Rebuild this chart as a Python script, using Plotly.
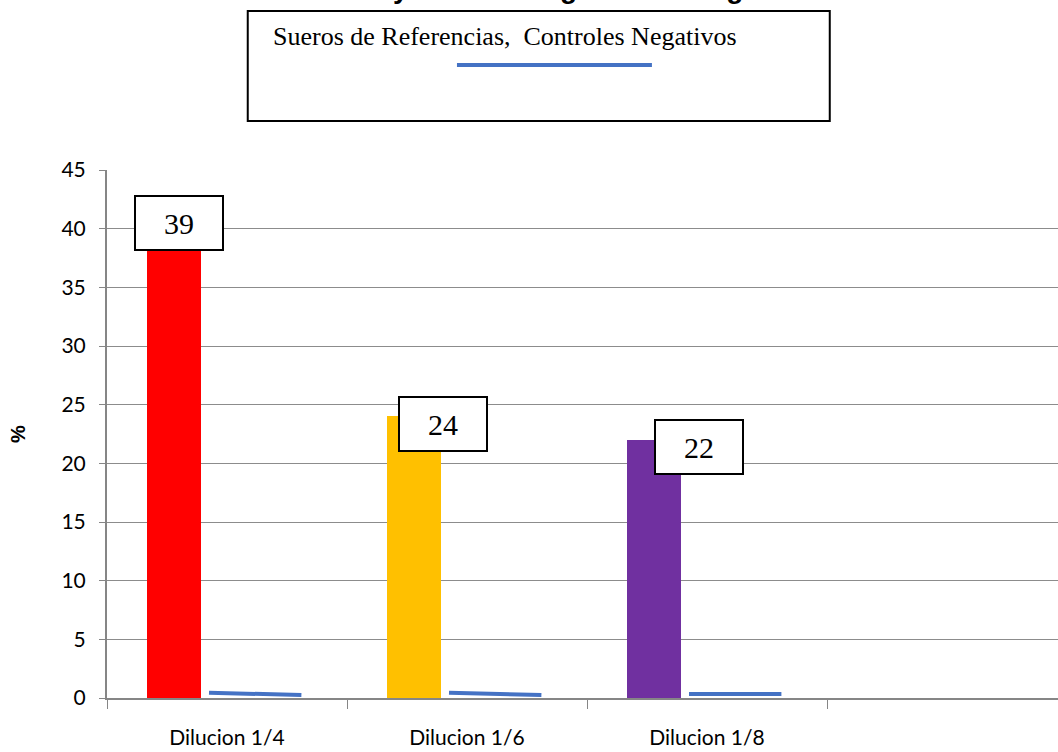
import plotly.graph_objects as go

categories = ["Dilucion 1/4", "Dilucion 1/6", "Dilucion 1/8"]
sueros = [39, 24, 22]
bar_colors = ["#FF0000", "#FFC000", "#7030A0"]
neg_start = [0.45, 0.45, 0.35]
neg_end = [0.25, 0.25, 0.35]
y_ticks = [0, 5, 10, 15, 20, 25, 30, 35, 40, 45]
title_text = "Ensayo Elisa Antígeno Total Ag"
legend_text = "Sueros de Referencias,  Controles Negativos"

idx = list(range(len(categories)))
fig = go.Figure()
fig.add_trace(go.Bar(x=[i + 0.279 for i in idx], y=sueros, width=0.225,
                     marker=dict(color=bar_colors, line=dict(width=0)),
                     showlegend=False, hoverinfo="skip"))
nx, ny = [], []
for i in idx:
    nx += [i + 0.425, i + 0.81, None]
    ny += [neg_start[i], neg_end[i], None]
fig.add_trace(go.Scatter(x=nx, y=ny, mode="lines", line=dict(color="#4472C4", width=4),
                         showlegend=False, hoverinfo="skip"))
fig.add_trace(go.Scatter(x=[0, 3], y=[0, 0], xaxis="x2", mode="markers",
                         marker=dict(opacity=0), showlegend=False, hoverinfo="skip"))

xr = [0, 3.9625]
fig.update_layout(
    width=1058, height=752,
    margin=dict(l=107, r=0, t=170, b=54),
    plot_bgcolor="white", paper_bgcolor="white",
    bargap=0,
    xaxis=dict(range=xr, tickvals=[i + 0.5 for i in idx], ticktext=categories,
               ticks="", showgrid=False, zeroline=False, showline=True, automargin=False,
               linecolor="#868686", linewidth=2, ticklabelstandoff=20,
               tickfont=dict(family="Lato, Liberation Sans", size=21, color="black")),
    xaxis2=dict(range=xr, overlaying="x", side="bottom", tickvals=[0, 1, 2, 3],
                showticklabels=False, ticks="outside", ticklen=10, tickwidth=1, automargin=False,
                tickcolor="#868686", showgrid=False, zeroline=False, showline=False),
    yaxis=dict(range=[0, 45], tickvals=y_ticks, showgrid=True, gridcolor="#8c8c8c",
               gridwidth=1, zeroline=False, showline=True, linecolor="#868686",
               linewidth=2, ticks="outside", ticklen=6, tickcolor="#868686",
               ticklabelstandoff=9, automargin=False,
               tickfont=dict(family="Lato, Liberation Sans", size=21, color="black"),
               title=dict(text="<b>%</b>", font=dict(family="Liberation Sans", size=20, color="black"),
                          standoff=30)),
)

label_dx = [0.298, 1.4, 2.465]
label_dy = [1.5, -0.64, -0.6]
for i in idx:
    fig.add_annotation(x=label_dx[i], y=sueros[i] + label_dy[i], text=str(sueros[i]),
                       showarrow=False, xanchor="center", yanchor="middle",
                       font=dict(family="Liberation Serif", size=30, color="black"),
                       bgcolor="white", bordercolor="black", borderwidth=2,
                       width=84, height=50)

fig.add_shape(type="rect", xref="paper", yref="paper", x0=0.148, x1=0.760, y0=1.093, y1=1.301,
              line=dict(color="black", width=2), fillcolor="white")
fig.add_shape(type="line", xref="paper", yref="paper", x0=0.368, x1=0.573, y0=1.199, y1=1.199,
              line=dict(color="#4472C4", width=4))
fig.add_annotation(xref="paper", yref="paper", x=0.1725, y=1.252, xanchor="left", yanchor="middle",
                   text=legend_text, showarrow=False,
                   font=dict(family="Liberation Serif", size=26, color="black"))
fig.add_annotation(xref="paper", yref="paper", x=0.45, y=1.311, xanchor="center", yanchor="bottom",
                   text="<b>" + title_text + "</b>", showarrow=False,
                   font=dict(family="Liberation Sans", size=28, color="black"))

fig.write_html("out.html")
